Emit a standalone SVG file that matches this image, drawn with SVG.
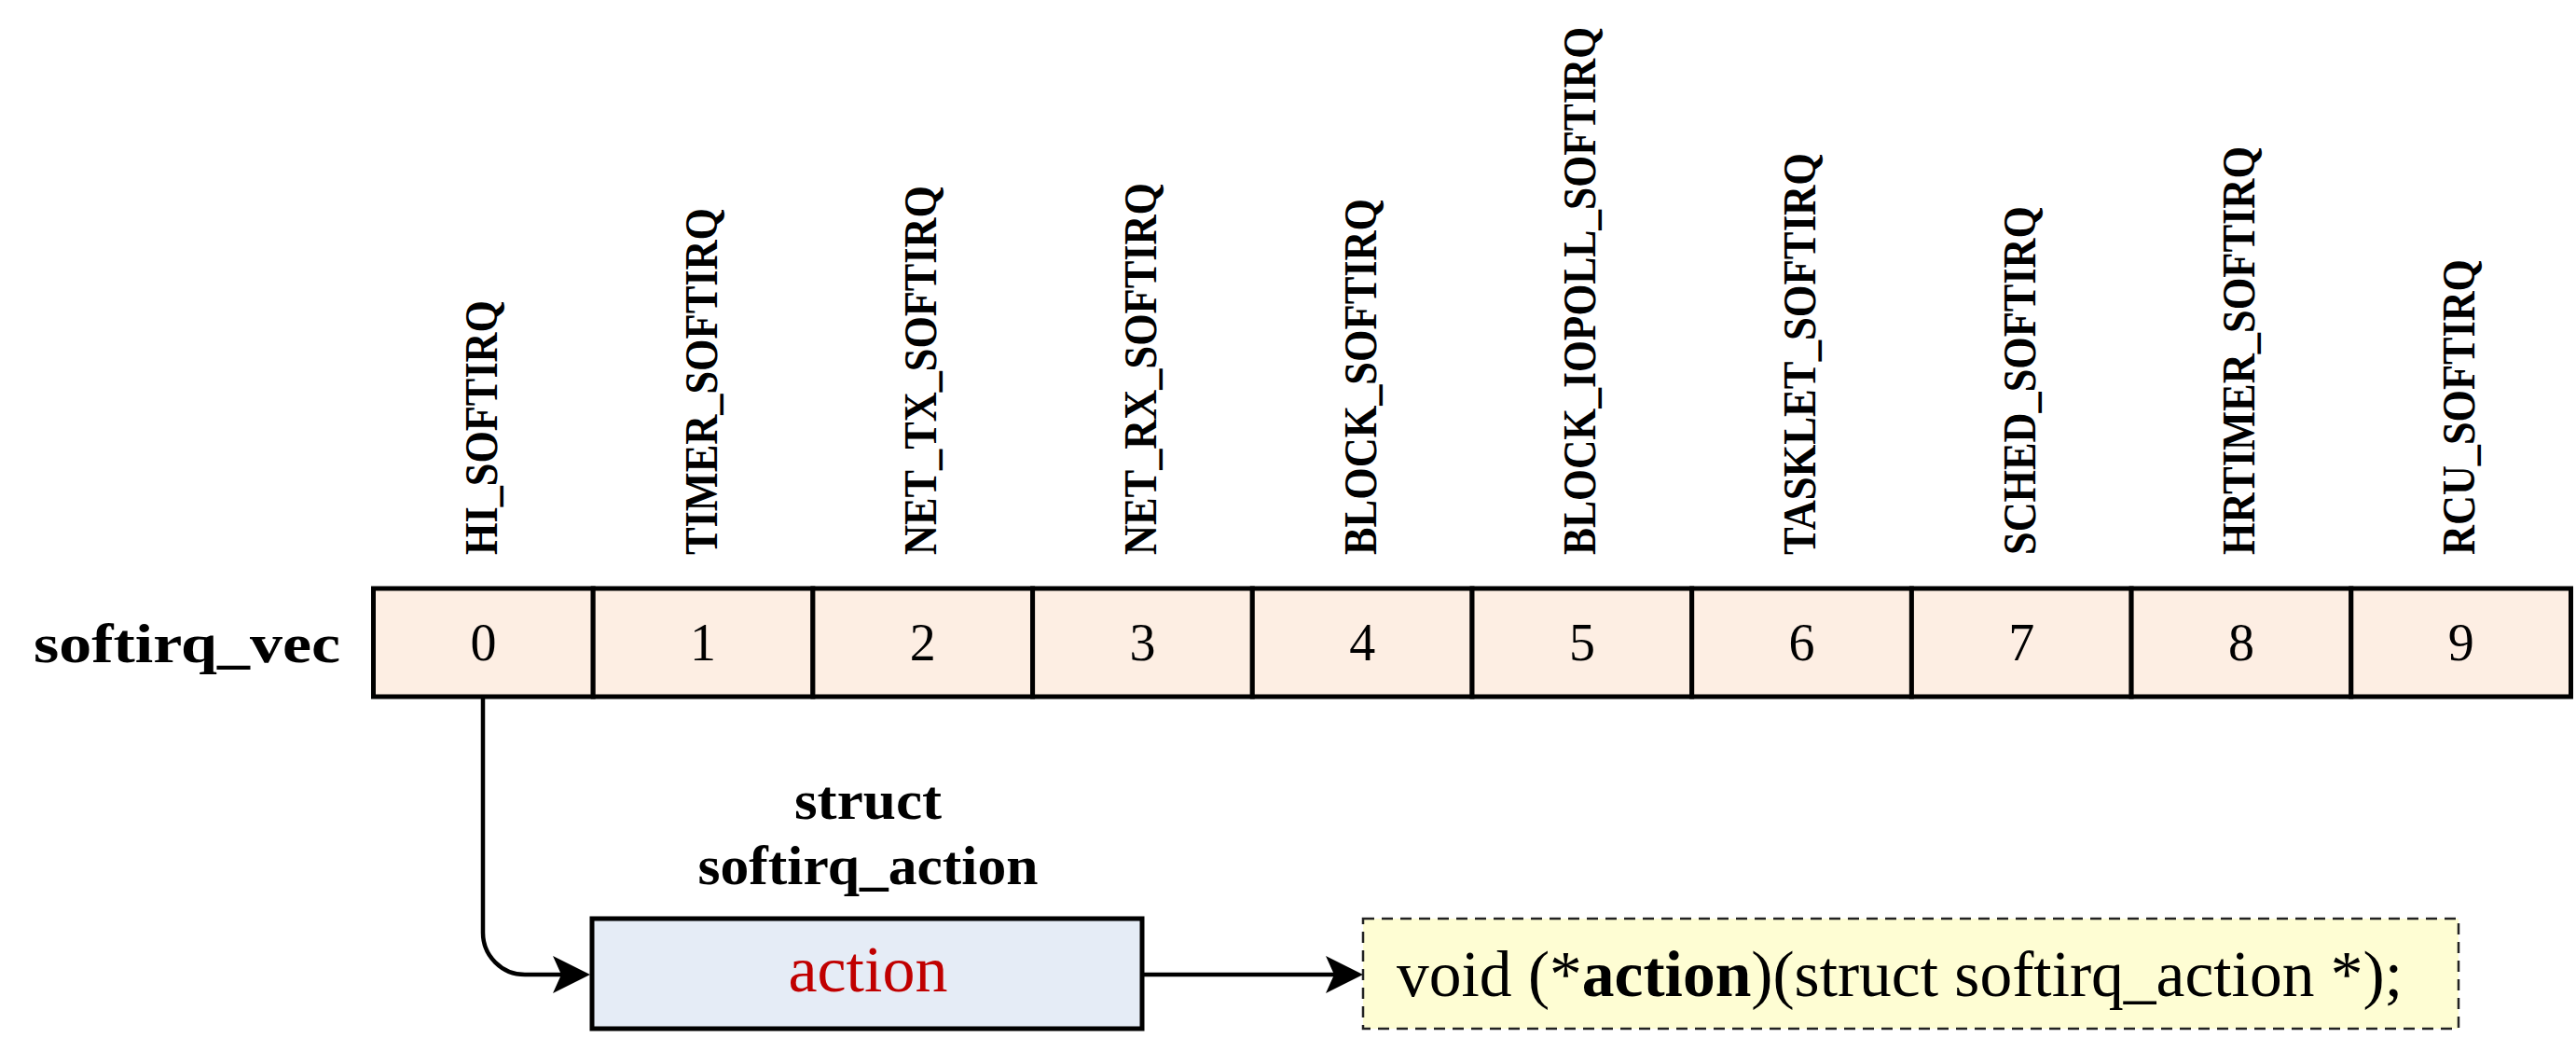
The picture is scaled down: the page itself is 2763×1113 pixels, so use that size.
<svg xmlns="http://www.w3.org/2000/svg" width="2763" height="1113" viewBox="0 0 2763 1113">
<style>
.lbl{font-family:"Liberation Serif","Times New Roman",serif;font-weight:bold;font-size:50px;fill:#000}
.num{font-family:"Liberation Serif","Times New Roman",serif;font-size:56px;fill:#000;text-anchor:middle}
.bold{font-family:"Liberation Serif","Times New Roman",serif;font-weight:bold;font-size:60px;fill:#000}
.cell{fill:#FDEEE3;stroke:#000;stroke-width:5}
.conn{fill:none;stroke:#000;stroke-width:4.5}
</style>
<defs>
<marker id="ah" viewBox="0 0 40 40" refX="20" refY="20" markerWidth="40" markerHeight="40" markerUnits="userSpaceOnUse" orient="auto">
<path d="M0,0 L40,20 L0,40 L9,20 Z" fill="#000"/>
</marker>
</defs>
<rect width="2763" height="1113" fill="#fff"/>
<g id="labels">
<text class="lbl" x="533" y="595" transform="rotate(-90 533 595)" textLength="273" lengthAdjust="spacingAndGlyphs">HI_SOFTIRQ</text>
<text class="lbl" x="769" y="595" transform="rotate(-90 769 595)" textLength="372" lengthAdjust="spacingAndGlyphs">TIMER_SOFTIRQ</text>
<text class="lbl" x="1004" y="595" transform="rotate(-90 1004 595)" textLength="396" lengthAdjust="spacingAndGlyphs">NET_TX_SOFTIRQ</text>
<text class="lbl" x="1240" y="595" transform="rotate(-90 1240 595)" textLength="399" lengthAdjust="spacingAndGlyphs">NET_RX_SOFTIRQ</text>
<text class="lbl" x="1476" y="595" transform="rotate(-90 1476 595)" textLength="382" lengthAdjust="spacingAndGlyphs">BLOCK_SOFTIRQ</text>
<text class="lbl" x="1711" y="595" transform="rotate(-90 1711 595)" textLength="566" lengthAdjust="spacingAndGlyphs">BLOCK_IOPOLL_SOFTIRQ</text>
<text class="lbl" x="1947" y="595" transform="rotate(-90 1947 595)" textLength="431" lengthAdjust="spacingAndGlyphs">TASKLET_SOFTIRQ</text>
<text class="lbl" x="2183" y="595" transform="rotate(-90 2183 595)" textLength="374" lengthAdjust="spacingAndGlyphs">SCHED_SOFTIRQ</text>
<text class="lbl" x="2418" y="595" transform="rotate(-90 2418 595)" textLength="438" lengthAdjust="spacingAndGlyphs">HRTIMER_SOFTIRQ</text>
<text class="lbl" x="2654" y="595" transform="rotate(-90 2654 595)" textLength="317" lengthAdjust="spacingAndGlyphs">RCU_SOFTIRQ</text>
</g>
<g id="softirq_vec">
<text class="bold" x="36" y="710" textLength="329" lengthAdjust="spacingAndGlyphs">softirq_vec</text>
<rect class="cell" x="400.5" y="631" width="235.7" height="116"/>
<rect class="cell" x="636.2" y="631" width="235.7" height="116"/>
<rect class="cell" x="871.9" y="631" width="235.7" height="116"/>
<rect class="cell" x="1107.6" y="631" width="235.7" height="116"/>
<rect class="cell" x="1343.3" y="631" width="235.7" height="116"/>
<rect class="cell" x="1579" y="631" width="235.7" height="116"/>
<rect class="cell" x="1814.7" y="631" width="235.7" height="116"/>
<rect class="cell" x="2050.4" y="631" width="235.7" height="116"/>
<rect class="cell" x="2286.1" y="631" width="235.7" height="116"/>
<rect class="cell" x="2521.8" y="631" width="235.7" height="116"/>
<text class="num" x="518.4" y="708">0</text>
<text class="num" x="754.1" y="708">1</text>
<text class="num" x="989.8" y="708">2</text>
<text class="num" x="1225.5" y="708">3</text>
<text class="num" x="1461.2" y="708">4</text>
<text class="num" x="1696.9" y="708">5</text>
<text class="num" x="1932.6" y="708">6</text>
<text class="num" x="2168.3" y="708">7</text>
<text class="num" x="2404" y="708">8</text>
<text class="num" x="2639.7" y="708">9</text>
</g>
<g id="softirq_action">
<text class="bold" x="931" y="878" text-anchor="middle" textLength="158" lengthAdjust="spacingAndGlyphs">struct</text>
<text class="bold" x="931" y="948" text-anchor="middle" textLength="365" lengthAdjust="spacingAndGlyphs">softirq_action</text>
<rect x="635" y="985" width="590" height="118" fill="#E5ECF6" stroke="#000" stroke-width="5"/>
<text x="931" y="1063" text-anchor="middle" font-family="Liberation Serif, Times New Roman, serif" font-size="70" fill="#C00000" textLength="171" lengthAdjust="spacingAndGlyphs">action</text>
</g>
<g id="action_decl">
<rect x="1462" y="985" width="1175" height="118" fill="#FEFDD3" stroke="#222" stroke-width="2.5" stroke-dasharray="12 8"/>
<text x="1498" y="1068" font-family="Liberation Serif, Times New Roman, serif" font-size="70" fill="#000" textLength="1079" lengthAdjust="spacingAndGlyphs">void (*<tspan font-weight="bold">action</tspan>)(struct softirq_action *);</text>
</g>
<g id="connectors">
<path class="conn" d="M518,749 V1000 A45,45 0 0 0 563,1045 H613" marker-end="url(#ah)"/>
<path class="conn" d="M1227,1045 H1442" marker-end="url(#ah)"/>
</g>
</svg>
